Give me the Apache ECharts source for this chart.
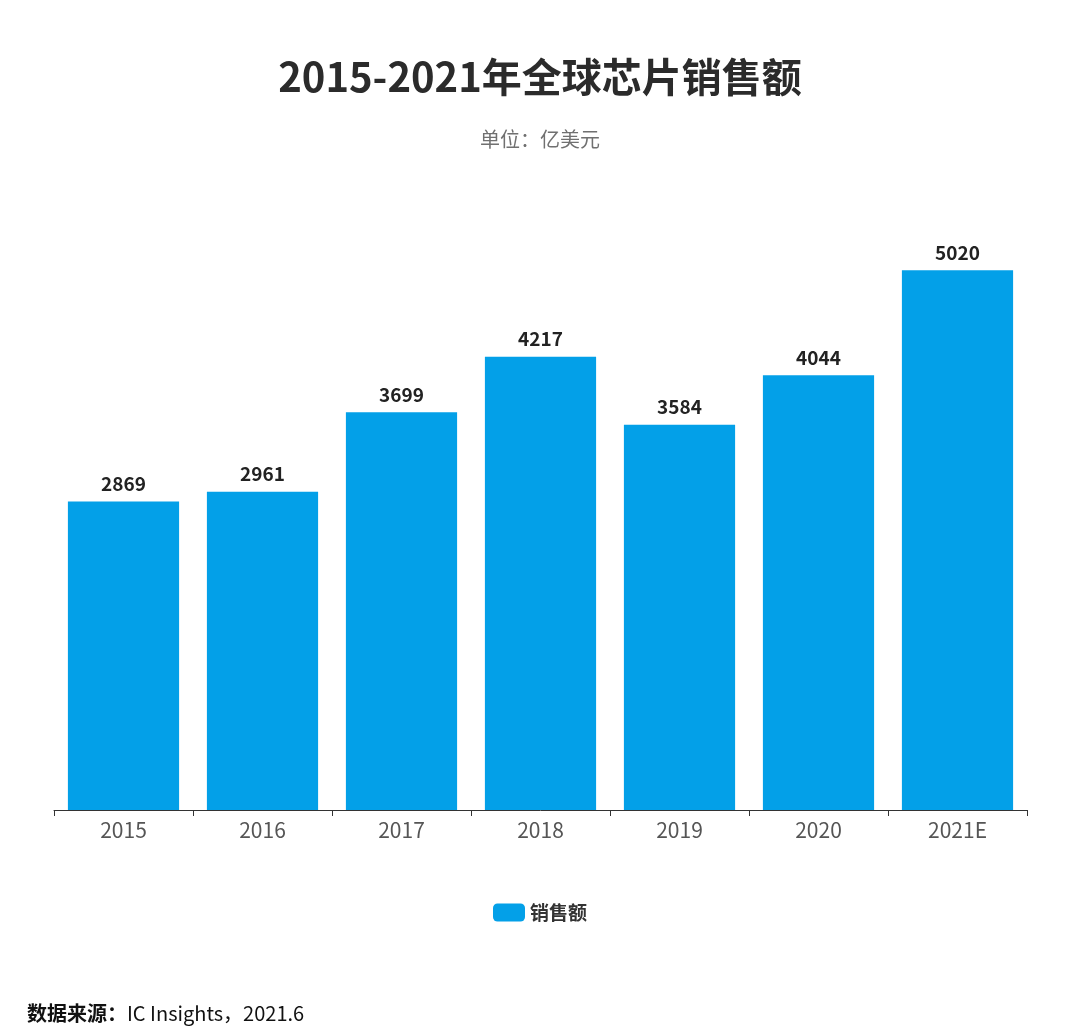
<!doctype html>
<html lang="zh">
  <head>
    <meta charset="UTF-8" />
    <title>2015-2021年全球芯片销售额</title>
    <script src="https://fastly.jsdelivr.net/npm/echarts@6/dist/echarts.min.js"></script>
    <style>
      * { margin: 0; padding: 0; }
      html, body, #chart { width: 100%; height: 100%; overflow: hidden; background: #fff; }
    </style>
  </head>
  <body>
    <div id="chart"></div>
    <script>
      const years = ['2015', '2016', '2017', '2018', '2019', '2020', '2021E'];
      const sales = [2869, 2961, 3699, 4217, 3584, 4044, 5020];
      const seriesName = '销售额';

      const font = '"Noto Sans CJK SC", "Noto Sans", sans-serif';
      const chart = echarts.init(document.getElementById('chart'));
      chart.setOption({
        animation: false,
        textStyle: { fontFamily: font },
        title: {
          text: '2015-2021年全球芯片销售额',
          subtext: '单位：亿美元',
          left: 'center',
          top: 52,
          itemGap: 32,
          textStyle: { fontSize: 40, fontWeight: 'bold', color: '#2b2b2b', fontFamily: font },
          subtextStyle: { fontSize: 20, color: '#707070', fontFamily: font }
        },
        grid: { left: 54, right: 53, top: 165, bottom: 224, containLabel: false },
        legend: {
          bottom: 107,
          left: 'center',
          itemWidth: 32,
          itemHeight: 18,
          icon: 'roundRect',
          textStyle: { fontSize: 19, fontWeight: 'bold', color: '#333', fontFamily: font },
          data: [seriesName]
        },
        xAxis: {
          type: 'category',
          data: years,
          axisLine: { lineStyle: { color: '#333', width: 1 } },
          axisTick: { show: true, length: 6, lineStyle: { color: '#333' } },
          axisLabel: { fontSize: 21, color: '#555', margin: 10 }
        },
        yAxis: {
          type: 'value',
          min: 0,
          max: 6000,
          show: false,
          splitLine: { show: false }
        },
        series: [
          {
            name: seriesName,
            type: 'bar',
            data: sales,
            barWidth: '80%',
            itemStyle: { color: '#03a0e8' },
            label: {
              show: true,
              position: 'top',
              distance: 8,
              fontSize: 19,
              fontWeight: 'bold',
              color: '#222'
            }
          }
        ],
        graphic: [
          {
            type: 'text',
            left: 27,
            top: 1003,
            style: {
              text: '{b|数据来源：}{n|IC Insights，2021.6}',
              rich: {
                b: { fontSize: 20, fontWeight: 'bold', fill: '#111', fontFamily: font },
                n: { fontSize: 20, fill: '#111', fontFamily: font }
              }
            }
          }
        ]
      });
    </script>
  </body>
</html>
